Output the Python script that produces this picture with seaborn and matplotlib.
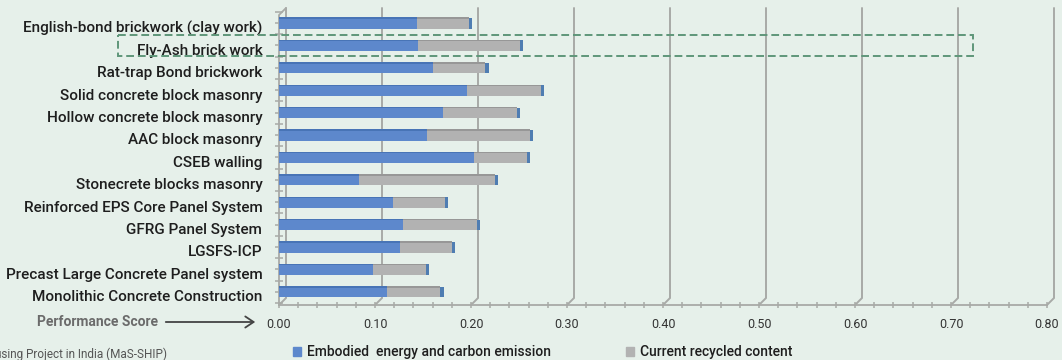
import numpy as np
import pandas as pd
import matplotlib
matplotlib.use("Agg")
import matplotlib.pyplot as plt
import matplotlib.transforms as mtransforms
from matplotlib.patches import Rectangle, Patch
import seaborn as sns

# Walling / construction systems, top to bottom
systems = [
    "English-bond brickwork (clay work)",
    "Fly-Ash brick work",
    "Rat-trap Bond brickwork",
    "Solid concrete block masonry",
    "Hollow concrete block masonry",
    "AAC block masonry",
    "CSEB walling",
    "Stonecrete blocks masonry",
    "Reinforced EPS Core Panel System",
    "GFRG Panel System",
    "LGSFS-ICP",
    "Precast Large Concrete Panel system",
    "Monolithic Concrete Construction",
]
# Performance score components
embodied = [0.144, 0.145, 0.160, 0.196, 0.171, 0.154, 0.203, 0.083, 0.119, 0.129, 0.126, 0.098, 0.113]
recycled = [0.054, 0.106, 0.055, 0.077, 0.077, 0.107, 0.055, 0.142, 0.054, 0.077, 0.054, 0.055, 0.055]
x_ticks = [0.0, 0.1, 0.2, 0.3, 0.4, 0.5, 0.6, 0.7, 0.8]
series_names = ["Embodied  energy and carbon emission", "Current recycled content"]
highlight = "Fly-Ash brick work"

BG = "#e6f0ea"
BLUE = "#5d88cc"
BLUE_DARK = "#4874b6"
BLUE_CAP = "#4f7db2"
GRAY = "#b2b2b2"
GRAY_DARK = "#979797"
GRID = "#a8aaa7"
TEXT = "#1e1e1e"

sns.set_theme(style="white")
plt.rcParams["font.family"] = ["Roboto", "DejaVu Sans"]

df = pd.DataFrame({"system": systems, "embodied": embodied, "recycled": recycled})
df["total"] = df["embodied"] + df["recycled"]

W, H = 1062, 360
fig = plt.figure(figsize=(W / 100, H / 100), dpi=100, facecolor=BG)
ax = fig.add_axes([279 / W, 1 - 305 / H, 768 / W, 297 / H])
ax.set_facecolor(BG)

# stacked bars: full length in grey, embodied share in blue over it
sns.barplot(data=df, x="total", y="system", orient="h", color=GRAY, saturation=1,
            width=0.5, ax=ax, linewidth=0, zorder=3)
sns.barplot(data=df, x="embodied", y="system", orient="h", color=BLUE, saturation=1,
            width=0.5, ax=ax, linewidth=0, zorder=4)

ax.set_xlim(0, 0.8)
ax.set_ylim(12.59, -0.67)

# shaded top edge and end cap give the bars some depth
n = len(df)
for i, p in enumerate(ax.patches):
    x0, y0 = p.get_x(), p.get_y()
    w, h = p.get_width(), p.get_height()
    dark = GRAY_DARK if i < n else BLUE_DARK
    ax.add_patch(Rectangle((x0, y0), w, h * 0.13, color=dark, lw=0, zorder=p.get_zorder() + 0.5))
    if i < n:
        ax.add_patch(Rectangle((x0 + w, y0 + h * 0.05), 0.0035, h * 0.95, color=BLUE_CAP,
                               lw=0, zorder=5))

# back-wall gridlines with a short perspective step down to the floor
blend = mtransforms.blended_transform_factory(ax.transData, ax.transAxes)
dx, dy = 7 / 960, 7 / 297
for v in x_ticks:
    ax.plot([v, v + dx, v + dx], [0, dy, 1], transform=blend, color=GRID, lw=1.4,
            zorder=1, clip_on=False, solid_joinstyle="miter")
# front left wall edge
ax.plot([0, 0, dx], [0, 1 - dy, 1], transform=blend, color=GRID, lw=1.3, zorder=2,
        clip_on=False)

for s in ["top", "right", "left"]:
    ax.spines[s].set_visible(False)
ax.spines["bottom"].set_color(GRID)
ax.spines["bottom"].set_linewidth(1.3)

ax.set_xticks(x_ticks)
ax.set_xticklabels([f"{v:.2f}" for v in x_ticks])
ax.set_xticks(np.arange(0, 0.801, 0.02), minor=True)
ax.tick_params(axis="x", which="both", direction="inout", length=5, width=1.1, color=GRID,
               labelsize=9, labelcolor="#333333", pad=7, bottom=True)

ax.set_yticks(range(n))
ax.set_yticks(np.arange(-0.5, n, 1.0), minor=True)
ax.tick_params(axis="y", which="both", direction="inout", length=6, width=1.1, color=GRID,
               left=True, labelsize=11, labelcolor=TEXT, pad=9)
ax.set_xlabel("")
ax.set_ylabel("")
shift = mtransforms.ScaledTranslation(0, -4 / 100, fig.dpi_scale_trans)
for lab in ax.get_yticklabels():
    lab.set_transform(lab.get_transform() + shift)
    lab.set_fontweight(500)

# dashed box around the highlighted row
row = systems.index(highlight)
ax.add_patch(Rectangle((-0.168, row - 0.47), 0.723 + 0.168, 0.94, fill=False,
                       ec="#5f9679", lw=1.4, ls=(0, (4, 2)), clip_on=False, zorder=6))

# axis caption with arrow
fig.text(158 / W, 1 - 322 / H, "Performance Score", ha="right", va="center",
         fontsize=10, color="#6b6b6b", fontweight="bold")
fig.add_artist(matplotlib.patches.FancyArrowPatch(
    (163 / W, 1 - 322 / H), (258 / W, 1 - 322 / H), transform=fig.transFigure,
    arrowstyle="->,head_length=6,head_width=4", color="#444444", lw=1.3))

# source note
fig.text(167 / W, 1 - 354 / H, "Housing Project in India (MaS-SHIP)", ha="right",
         va="center", fontsize=8.5, color="#555555")

handles = [Patch(color=BLUE), Patch(color=GRAY)]
leg = fig.legend(handles, series_names, loc="center left", bbox_to_anchor=(286 / W, 1 - 352 / H),
                 ncol=2, frameon=False, fontsize=10, handlelength=0.6, handleheight=0.6,
                 handletextpad=0.4, columnspacing=5.4, borderpad=0, labelcolor=TEXT)
for t in leg.get_texts():
    t.set_fontweight(500)

fig.savefig("out.png", dpi=100, facecolor=BG)
